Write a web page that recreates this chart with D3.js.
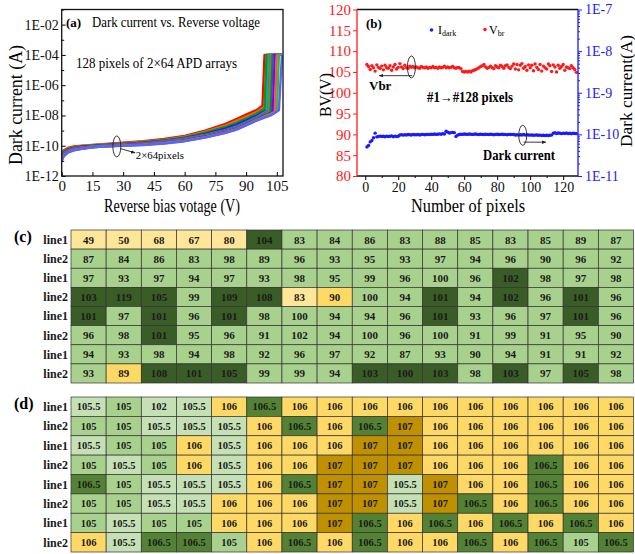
<!DOCTYPE html>
<html>
<head>
<meta charset="utf-8">
<script src="https://cdn.jsdelivr.net/npm/d3@7"></script>
<style>
  body { margin: 0; background: #fff; }
  svg text { font-family: "Liberation Serif", "Times New Roman", serif; }
</style>
</head>
<body>
<div id="chart"></div>
<script>
// ============================================================================
// DATA - panel (a): log10 of dark current (A) at each bias voltage, 12 traced curves
// ============================================================================
const aVolts = [0, 1, 3, 6, 10, 15, 20, 30, 40, 50, 60, 70, 80, 85, 90, 95, 97, 98, 99, 100, 101, 102, 103, 104, 105, 106, 107.5];
const aLogCurrent = [
    [-10.5, -10.3, -10.15, -10.05, -10.0, -9.95, -9.9, -9.8, -9.7, -9.55, -9.35, -9.0, -8.55, -8.25, -7.95, -7.65, -7.45, -7.35, -4, -4, -4, -4, -4, -4, -4, -4, -4],
    [-10.55, -10.35, -10.2, -10.1, -10.02, -9.97, -9.92, -9.83, -9.74, -9.6, -9.4, -9.07, -8.65, -8.38, -8.08, -7.78, -7.6, -7.52, -7.45, -4, -4, -4, -4, -4, -4, -4, -4],
    [-10.6, -10.4, -10.22, -10.12, -10.05, -10.0, -9.95, -9.86, -9.77, -9.64, -9.45, -9.14, -8.75, -8.5, -8.2, -7.9, -7.72, -7.64, -7.56, -4, -4, -4, -4, -4, -4, -4, -4],
    [-10.65, -10.45, -10.25, -10.15, -10.07, -10.02, -9.97, -9.88, -9.8, -9.67, -9.5, -9.22, -8.86, -8.62, -8.33, -8.02, -7.86, -7.79, -7.72, -7.65, -4, -4, -4, -4, -4, -4, -4],
    [-10.7, -10.48, -10.28, -10.17, -10.1, -10.04, -9.99, -9.9, -9.83, -9.7, -9.54, -9.29, -8.97, -8.75, -8.45, -8.12, -7.96, -7.88, -7.8, -7.72, -4, -4, -4, -4, -4, -4, -4],
    [-10.75, -10.52, -10.31, -10.2, -10.12, -10.06, -10.01, -9.92, -9.85, -9.73, -9.57, -9.32, -9.01, -8.8, -8.5, -8.17, -8.02, -7.95, -7.88, -7.8, -7.72, -4, -4, -4, -4, -4, -4],
    [-10.8, -10.56, -10.34, -10.22, -10.14, -10.07, -10.02, -9.94, -9.88, -9.76, -9.6, -9.36, -9.05, -8.84, -8.54, -8.21, -8.07, -8.0, -7.93, -7.86, -7.78, -4, -4, -4, -4, -4, -4],
    [-10.83, -10.6, -10.37, -10.24, -10.16, -10.08, -10.03, -9.96, -9.9, -9.78, -9.63, -9.39, -9.08, -8.87, -8.57, -8.25, -8.11, -8.05, -7.98, -7.92, -7.86, -7.8, -4, -4, -4, -4, -4],
    [-10.87, -10.62, -10.39, -10.26, -10.17, -10.09, -10.04, -9.97, -9.92, -9.8, -9.65, -9.41, -9.1, -8.9, -8.6, -8.28, -8.14, -8.08, -8.02, -7.97, -7.91, -7.85, -7.79, -4, -4, -4, -4],
    [-10.9, -10.65, -10.41, -10.27, -10.18, -10.1, -10.05, -9.98, -9.93, -9.82, -9.67, -9.43, -9.12, -8.92, -8.62, -8.31, -8.18, -8.12, -8.06, -8.0, -7.95, -7.89, -7.83, -7.76, -4, -4, -4],
    [-10.95, -10.68, -10.43, -10.28, -10.19, -10.1, -10.05, -9.99, -9.94, -9.84, -9.69, -9.45, -9.14, -8.94, -8.64, -8.33, -8.22, -8.16, -8.1, -8.05, -7.99, -7.93, -7.86, -7.79, -7.72, -4, -4],
    [-11.0, -10.7, -10.45, -10.3, -10.2, -10.1, -10.05, -10.0, -9.95, -9.85, -9.7, -9.46, -9.15, -8.95, -8.65, -8.35, -8.25, -8.2, -8.15, -8.1, -8.05, -8.0, -7.92, -7.83, -7.74, -7.65, -4]
];
const aXTicks = [0, 15, 30, 45, 60, 75, 90, 105];
const aYTicks = [1e-12, 1e-10, 1e-8, 1e-6, 1e-4, 1e-2];
const aYMinorTicks = [1e-11, 1e-9, 1e-7, 1e-5, 1e-3, 1e-1];

// ============================================================================
// DATA - panel (b): breakdown voltage (V) and dark current (x1e-11 A) per pixel
// ============================================================================
const bVbr = [
    106.8, 106.3, 105.6, 106.5, 106.0, 105.2, 106.7, 106.1, 105.8, 106.4,
    105.5, 106.6, 106.0, 105.9, 106.5, 105.4, 106.2, 106.8, 105.7, 106.1,
    107.0, 106.2, 105.8, 106.6, 106.0, 105.9, 106.4, 106.1, 106.3, 106.0,
    106.2, 106.0, 105.9, 106.3, 106.1, 106.0, 106.2, 105.9, 106.1, 106.0,
    106.3, 106.0, 106.1, 105.9, 106.2, 106.0, 106.1, 106.4, 106.0, 106.2,
    106.0, 106.1, 106.3, 106.0, 105.9, 106.1, 106.0, 105.8, 105.1, 105.0,
    105.1, 105.0, 105.2, 105.0, 105.3, 105.4, 105.6, 105.8, 106.0, 106.3,
    106.5, 106.8, 106.2, 105.9, 106.1, 106.4, 106.0, 105.8, 106.5, 106.2,
    106.0, 106.6, 106.3, 105.9, 106.5, 106.7, 106.1, 105.8, 106.4, 106.9,
    105.7, 106.8, 105.5, 106.6, 107.0, 105.9, 106.3, 105.4, 106.7, 106.0,
    106.6, 105.3, 106.9, 106.1, 105.6, 106.8, 105.2, 106.4, 106.0, 105.7,
    106.9, 106.5, 105.1, 106.7, 106.2, 105.0, 106.6, 105.9, 106.3, 106.8,
    105.4, 106.2, 106.0, 105.8, 106.5, 106.0, 105.6, 104.9
];
const bIdarkE11 = [
    5.0, 5.4, 6.6, 7.1, 8.3, 10.7, 8.7, 8.9, 9.1, 8.9,
    9.0, 8.8, 9.1, 8.9, 9.0, 9.2, 8.8, 9.1, 8.9, 9.0,
    9.7, 9.8, 9.6, 9.8, 9.7, 9.9, 9.8, 9.7, 9.9, 9.8,
    9.8, 9.9, 9.7, 9.9, 10.0, 9.8, 9.9, 10.0, 9.9, 10.1,
    10.0, 10.2, 10.0, 10.1, 10.3, 10.1, 10.4, 10.2, 11.9, 11.3,
    10.8, 11.0, 11.2, 11.0, 8.9, 9.6, 9.9, 10.1, 10.0, 10.2,
    10.1, 10.0, 10.2, 10.1, 10.0, 10.1, 10.2, 10.0, 9.9, 10.1,
    10.0, 9.9, 10.1, 10.0, 9.9, 10.1, 10.0, 9.8, 10.0, 10.1,
    9.9, 10.0, 10.1, 9.9, 10.0, 9.8, 10.0, 9.9, 10.0, 9.9,
    9.7, 9.8, 9.6, 9.8, 9.7, 9.9, 9.6, 9.8, 9.7, 9.6,
    9.7, 9.5, 9.6, 9.7, 9.5, 9.6, 9.4, 9.5, 9.4, 9.5,
    9.4, 9.5, 9.6, 10.6, 10.9, 10.5, 10.8, 10.6, 10.4, 10.7,
    10.5, 10.8, 10.4, 10.6, 10.3, 10.6, 10.5, 10.4
];
const bXTicks = [0, 20, 40, 60, 80, 100, 120];
const bXMinorTicks = [10, 30, 50, 70, 90, 110];
const bLeftTicks = [80, 85, 90, 95, 100, 105, 110, 115, 120];
const bRightTicks = [1e-11, 1e-10, 1e-9, 1e-8, 1e-7];

// ============================================================================
// DATA - tables (c) and (d)
// ============================================================================
const rowLabels = ['line1', 'line2', 'line1', 'line2', 'line1', 'line2', 'line1', 'line2'];
const cValues = [
    [49, 50, 68, 67, 80, 104, 83, 84, 86, 83, 88, 85, 83, 85, 89, 87],
    [87, 84, 86, 83, 98, 89, 96, 93, 95, 93, 97, 94, 96, 90, 96, 92],
    [97, 93, 97, 94, 97, 93, 98, 95, 99, 96, 100, 96, 102, 98, 97, 98],
    [103, 119, 105, 99, 109, 108, 83, 90, 100, 94, 101, 94, 102, 96, 101, 96],
    [101, 97, 101, 96, 101, 98, 100, 94, 94, 96, 101, 93, 96, 97, 101, 96],
    [96, 98, 101, 95, 96, 91, 102, 94, 100, 96, 100, 91, 99, 91, 95, 90],
    [94, 93, 98, 94, 98, 92, 96, 97, 92, 87, 93, 90, 94, 91, 91, 92],
    [93, 89, 108, 101, 105, 99, 99, 94, 103, 100, 103, 98, 103, 97, 105, 98]
];
// cell shading classes in (c): y = light yellow, o = yellow, g = light green, d = dark green
const cClasses = [
    'yyyyydgggggggggg',
    'gggggggggggggggg',
    'ggggggggggggdggg',
    'dddgddyoggdgdgdg',
    'dgdgdgggggdgggdg',
    'ggdggggggggggggg',
    'gggggggggggggggg',
    'godddgggdddgdgdg'
];
const dValues = [
    [105.5, 105, 102, 105.5, 106, 106.5, 106, 106, 106, 106, 106, 106, 106, 106, 106, 106],
    [105, 105, 105.5, 105.5, 105.5, 106, 106.5, 106, 106.5, 107, 106, 106, 106, 106, 106, 106],
    [105.5, 105, 105, 106, 105.5, 106, 106, 106, 107, 107, 106, 106, 106, 106, 106, 106],
    [105, 105.5, 105, 106, 105.5, 106, 106, 107, 107, 107, 106, 106, 106, 106.5, 106, 106],
    [106.5, 105, 105.5, 105.5, 105.5, 106, 106.5, 107, 107, 105.5, 107, 106, 106, 106.5, 106, 106],
    [105, 105, 105.5, 105.5, 106, 106, 106, 107, 107, 105.5, 107, 106.5, 106, 106.5, 106, 106],
    [105, 105.5, 105, 105, 106, 106, 106, 107, 106.5, 106, 106.5, 106, 106.5, 106, 106.5, 106],
    [106, 105.5, 106.5, 106.5, 105, 106, 106.5, 106, 106.5, 106, 106, 106.5, 106, 106.5, 105, 106.5]
];

// ============================================================================
// STYLE
// ============================================================================
const curveColors = ['#ff0000', '#e07000', '#00a000', '#2020ff', '#00b0b0', '#d000d0',
                     '#8a8a00', '#007f7f', '#8000ff', '#ff5050', '#30c030', '#6060ff'];
const cFill = { y: '#ffe699', o: '#ffd966', g: '#a9d18e', d: '#3a5c26' };
const dFill = { 102: '#c5e0b4', 105: '#a9d18e', 105.5: '#c5e0b4', 106: '#ffd966', 106.5: '#548235', 107: '#bf9000' };
const RED = '#ff1a1a', BLUE = '#1a1aff';

const svg = d3.select('#chart').append('svg')
    .attr('width', 635).attr('height', 554)
    .style('display', 'block');

svg.append('defs').append('marker')
    .attr('id', 'arrowHead')
    .attr('viewBox', '0 0 10 10').attr('refX', 9).attr('refY', 5)
    .attr('markerWidth', 5).attr('markerHeight', 5).attr('orient', 'auto')
    .append('path').attr('d', 'M0,1 L10,5 L0,9 Z').attr('fill', '#222');

const sup = e => '1E-' + String(e).padStart(2, '0');

// ============================================================================
// PANEL (a) - I-V curves
// ============================================================================
function drawPanelA() {
    const left = 61.7, right = 283, top = 9.5, bottom = 176;
    const x = d3.scaleLinear().domain([0, 108]).range([left, right]);
    const y = d3.scaleLog().domain([1e-12, 1e-1]).range([bottom, top]);
    const g = svg.append('g');

    g.append('clipPath').attr('id', 'clipA').append('rect')
        .attr('x', left).attr('y', top).attr('width', right - left).attr('height', bottom - top);

    const line = d3.line()
        .x((d, i) => x(aVolts[i]))
        .y(d => y(Math.pow(10, d)));

    g.append('g').attr('clip-path', 'url(#clipA)')
        .selectAll('path')
        .data(aLogCurrent)
        .join('path')
        .attr('d', line)
        .attr('fill', 'none')
        .attr('stroke', (d, i) => curveColors[i])
        .attr('stroke-width', 2.4)
        .attr('stroke-linejoin', 'round');

    // axes (ticks inward)
    g.append('g').attr('transform', `translate(0,${bottom})`)
        .call(d3.axisBottom(x).tickValues(aXTicks).tickSize(-4).tickPadding(4))
        .call(a => a.select('.domain').remove())
        .selectAll('text').style('font-size', '15px').attr('fill', '#111');

    g.append('g').attr('transform', `translate(${left},0)`)
        .call(d3.axisLeft(y).tickValues(aYTicks).tickSize(-4).tickPadding(3)
            .tickFormat(d => sup(Math.round(-Math.log10(d)))))
        .call(a => a.select('.domain').remove())
        .selectAll('text').style('font-size', '14px').attr('fill', '#111');

    g.append('g').attr('transform', `translate(${left},0)`)
        .call(d3.axisLeft(y).tickValues(aYMinorTicks).tickSize(-2.5).tickFormat(''))
        .call(a => a.select('.domain').remove());

    g.append('rect')
        .attr('x', left).attr('y', top).attr('width', right - left).attr('height', bottom - top)
        .attr('fill', 'none').attr('stroke', '#111').attr('stroke-width', 1.3);

    // titles
    g.append('text')
        .attr('x', 172).attr('y', 212).attr('text-anchor', 'middle')
        .attr('textLength', 136).attr('lengthAdjust', 'spacingAndGlyphs')
        .style('font-size', '18px').text('Reverse bias votage (V)');
    g.append('text')
        .attr('transform', 'translate(22,105) rotate(-90)').attr('text-anchor', 'middle')
        .attr('textLength', 120).attr('lengthAdjust', 'spacingAndGlyphs')
        .style('font-size', '18px').text('Dark current (A)');

    // annotations
    g.append('text').attr('x', 66).attr('y', 27)
        .style('font-size', '13px').style('font-weight', 'bold').text('(a)');
    g.append('text').attr('x', 92).attr('y', 27)
        .attr('textLength', 168).attr('lengthAdjust', 'spacingAndGlyphs')
        .style('font-size', '14px').text('Dark current vs. Reverse voltage');
    g.append('text').attr('x', 76).attr('y', 68)
        .attr('textLength', 161).attr('lengthAdjust', 'spacingAndGlyphs')
        .style('font-size', '14px').text('128 pixels of 2×64 APD arrays');

    g.append('ellipse')
        .attr('cx', x(26.9)).attr('cy', y(9e-11)).attr('rx', 4).attr('ry', 10.5)
        .attr('fill', 'none').attr('stroke', '#222').attr('stroke-width', 0.9);
    g.append('line')
        .attr('x1', x(28.6)).attr('y1', y(6.5e-11)).attr('x2', x(35.8)).attr('y2', y(3.4e-11))
        .attr('stroke', '#222').attr('stroke-width', 0.9).attr('marker-end', 'url(#arrowHead)');
    g.append('text').attr('x', x(36.2)).attr('y', 158.5)
        .attr('textLength', 48).attr('lengthAdjust', 'spacingAndGlyphs')
        .style('font-size', '10.5px').text('2×64pixels');
}

// ============================================================================
// PANEL (b) - Vbr and Idark per pixel (dual axis)
// ============================================================================
function drawPanelB() {
    const left = 357, right = 578, top = 9.5, bottom = 176;
    const x = d3.scaleLinear().domain([-5, 129]).range([left, right]);
    const yL = d3.scaleLinear().domain([80, 120]).range([bottom, top]);
    const yR = d3.scaleLog().domain([1e-11, 1e-7]).range([bottom, top]);
    const g = svg.append('g');

    g.selectAll('.vbr').data(bVbr).join('circle')
        .attr('cx', (d, i) => x(i + 1)).attr('cy', d => yL(d)).attr('r', 1.7).attr('fill', RED);
    g.selectAll('.idk').data(bIdarkE11).join('circle')
        .attr('cx', (d, i) => x(i + 1)).attr('cy', d => yR(d * 1e-11)).attr('r', 1.7).attr('fill', BLUE);

    // bottom axis
    const xa = g.append('g').attr('transform', `translate(0,${bottom})`)
        .call(d3.axisBottom(x).tickValues(bXTicks).tickSize(4).tickPadding(2))
        .call(a => a.select('.domain').remove());
    xa.selectAll('text').style('font-size', '14px').attr('fill', '#111');
    g.append('g').attr('transform', `translate(0,${bottom})`)
        .call(d3.axisBottom(x).tickValues(bXMinorTicks).tickSize(2).tickFormat(''))
        .call(a => a.select('.domain').remove());

    // left axis (red)
    const la = g.append('g').attr('transform', `translate(${left},0)`)
        .call(d3.axisLeft(yL).tickValues(bLeftTicks).tickSize(4).tickPadding(2))
        .call(a => a.select('.domain').remove());
    la.selectAll('line').attr('stroke', RED);
    la.selectAll('text').style('font-size', '15px').attr('fill', RED);

    // right axis (blue, log with minor ticks)
    const ra = g.append('g').attr('transform', `translate(${right},0)`)
        .call(d3.axisRight(yR).tickValues(bRightTicks).tickSize(4).tickPadding(3)
            .tickFormat(d => '1E-' + Math.round(-Math.log10(d))))
        .call(a => a.select('.domain').remove());
    ra.selectAll('line').attr('stroke', BLUE);
    ra.selectAll('text').style('font-size', '14px').attr('fill', BLUE);
    const rMinor = yR.ticks().filter(t => !bRightTicks.some(m => Math.abs(m - t) / m < 1e-6));
    g.append('g').attr('transform', `translate(${right},0)`)
        .call(d3.axisRight(yR).tickValues(rMinor).tickSize(2).tickFormat(''))
        .call(a => a.select('.domain').remove())
        .selectAll('line').attr('stroke', BLUE);

    // frame: top/bottom black, left red, right blue
    const frame = [
        [left, top, right, top, '#111'], [left, bottom, right, bottom, '#111'],
        [left, top, left, bottom, RED], [right, top, right, bottom, BLUE]
    ];
    g.selectAll('.frame').data(frame).join('line')
        .attr('x1', d => d[0]).attr('y1', d => d[1]).attr('x2', d => d[2]).attr('y2', d => d[3])
        .attr('stroke', d => d[4]).attr('stroke-width', 1.3);

    // titles
    g.append('text')
        .attr('x', 468).attr('y', 212).attr('text-anchor', 'middle')
        .attr('textLength', 114).attr('lengthAdjust', 'spacingAndGlyphs')
        .style('font-size', '19px').text('Number of pixels');
    g.append('text')
        .attr('transform', 'translate(331,95) rotate(-90)').attr('text-anchor', 'middle')
        .attr('textLength', 44).attr('lengthAdjust', 'spacingAndGlyphs')
        .style('font-size', '17px').text('BV(V)');
    g.append('text')
        .attr('transform', 'translate(632,91) rotate(-90)').attr('text-anchor', 'middle')
        .attr('textLength', 112).attr('lengthAdjust', 'spacingAndGlyphs')
        .style('font-size', '17px').text('Dark current(A)');

    // legend
    g.append('text').attr('x', 366).attr('y', 28)
        .style('font-size', '13px').style('font-weight', 'bold').text('(b)');
    g.append('circle').attr('cx', 431.5).attr('cy', 30).attr('r', 1.8).attr('fill', BLUE);
    const t1 = g.append('text').attr('x', 438).attr('y', 33.5).style('font-size', '12px');
    t1.append('tspan').text('I');
    t1.append('tspan').attr('dy', 2.5).style('font-size', '8px').text('dark');
    g.append('circle').attr('cx', 485).attr('cy', 29.5).attr('r', 1.8).attr('fill', RED);
    const t2 = g.append('text').attr('x', 489).attr('y', 33.5).style('font-size', '12px');
    t2.append('tspan').text('V');
    t2.append('tspan').attr('dy', 2.5).style('font-size', '8px').text('br');

    // annotations
    g.append('text').attr('x', 369).attr('y', 90)
        .style('font-size', '13px').style('font-weight', 'bold').text('Vbr');
    g.append('text').attr('x', 427).attr('y', 101.5)
        .attr('textLength', 86).attr('lengthAdjust', 'spacingAndGlyphs')
        .style('font-size', '14px').style('font-weight', 'bold').text('#1→#128 pixels');
    g.append('text').attr('x', 483).attr('y', 160)
        .attr('textLength', 72).attr('lengthAdjust', 'spacingAndGlyphs')
        .style('font-size', '14px').style('font-weight', 'bold').text('Dark current');

    g.append('ellipse').attr('cx', x(28)).attr('cy', yL(106.2)).attr('rx', 4).attr('ry', 11)
        .attr('fill', 'none').attr('stroke', '#222').attr('stroke-width', 0.9);
    g.append('line').attr('x1', x(28.5)).attr('y1', yL(104.1)).attr('x2', x(8.5)).attr('y2', yL(104.1))
        .attr('stroke', '#222').attr('stroke-width', 0.9).attr('marker-end', 'url(#arrowHead)');
    g.append('ellipse').attr('cx', x(95.5)).attr('cy', yR(9.5e-11)).attr('rx', 4).attr('ry', 10)
        .attr('fill', 'none').attr('stroke', '#222').attr('stroke-width', 0.9);
    g.append('line').attr('x1', x(96)).attr('y1', yR(6.5e-11)).attr('x2', x(109.5)).attr('y2', yR(6.5e-11))
        .attr('stroke', '#222').attr('stroke-width', 0.9).attr('marker-end', 'url(#arrowHead)');
}

// ============================================================================
// TABLES (c) and (d)
// ============================================================================
function drawTable(label, top, bottom, values, fillOf, fontSize) {
    const cols = d3.scaleBand().domain(d3.range(16)).range([71, 633.5]);
    const rows = d3.scaleBand().domain(d3.range(8)).range([top, bottom]);
    const g = svg.append('g');
    const cells = values.flatMap((row, r) => row.map((v, c) => ({ r, c, v })));

    g.selectAll('rect').data(cells).join('rect')
        .attr('x', d => cols(d.c)).attr('y', d => rows(d.r))
        .attr('width', cols.bandwidth()).attr('height', rows.bandwidth())
        .attr('fill', d => fillOf(d))
        .attr('stroke', '#333').attr('stroke-width', 0.7);

    g.selectAll('.val').data(cells).join('text')
        .attr('x', d => cols(d.c) + cols.bandwidth() / 2)
        .attr('y', d => rows(d.r) + rows.bandwidth() / 2)
        .attr('dy', '0.36em').attr('text-anchor', 'middle')
        .style('font-size', fontSize + 'px').style('font-weight', 'bold').attr('fill', '#1a1a1a')
        .text(d => d.v);

    g.selectAll('.row').data(rowLabels).join('text')
        .attr('x', 68).attr('y', (d, i) => rows(i) + rows.bandwidth() / 2)
        .attr('dy', '0.36em').attr('text-anchor', 'end')
        .style('font-size', '12px').style('font-weight', 'bold').attr('fill', '#1a1a1a')
        .text(d => d);

    g.append('text').attr('x', 14).attr('y', top + 12)
        .style('font-size', '16px').style('font-weight', 'bold').text(label);
}

drawPanelA();
drawPanelB();
drawTable('(c)', 230, 383, cValues, d => cFill[cClasses[d.r][d.c]], 11);
drawTable('(d)', 397, 552, dValues, d => dFill[d.v], 10.5);
</script>
</body>
</html>
